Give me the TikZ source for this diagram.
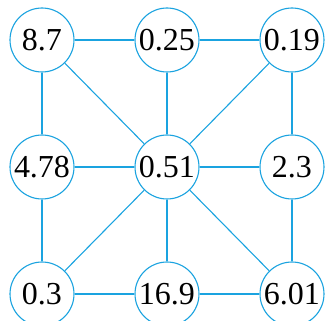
\documentclass[tikz,border=0pt]{standalone}
\usepackage{fontspec}
\setmainfont{Liberation Serif}
\usepackage{tikz}
\usetikzlibrary{positioning}
\definecolor{cyanline}{HTML}{1AA3E0}

\begin{document}
\begin{tikzpicture}[x=1pt,y=1pt,
  vtx/.style={circle,draw=cyanline,line width=1.1pt,minimum size=64pt,inner sep=0pt,fill=white,font=\fontsize{32}{32}\selectfont},
  edge/.style={cyanline,line width=1.1pt}]
  \useasboundingbox (0,0) rectangle (325,321);
  % nodes
  \node[vtx] (a) at (42,281) {8.7};
  \node[vtx] (b) at (167,281) {0.25};
  \node[vtx] (c) at (292,281) {0.19};
  \node[vtx] (d) at (42,154) {4.78};
  \node[vtx] (e) at (167,154) {0.51};
  \node[vtx] (f) at (292,154) {2.3};
  \node[vtx] (g) at (42,27) {0.3};
  \node[vtx] (h) at (167,27) {16.9};
  \node[vtx] (i) at (292,27) {6.01};
  % edges
  \draw[edge] (a)--(b) (b)--(c) (d)--(e) (e)--(f) (g)--(h) (h)--(i);
  \draw[edge] (a)--(d) (d)--(g) (b)--(e) (e)--(h) (c)--(f) (f)--(i);
  \draw[edge] (e)--(a) (e)--(c) (e)--(g) (e)--(i);
\end{tikzpicture}
\end{document}
